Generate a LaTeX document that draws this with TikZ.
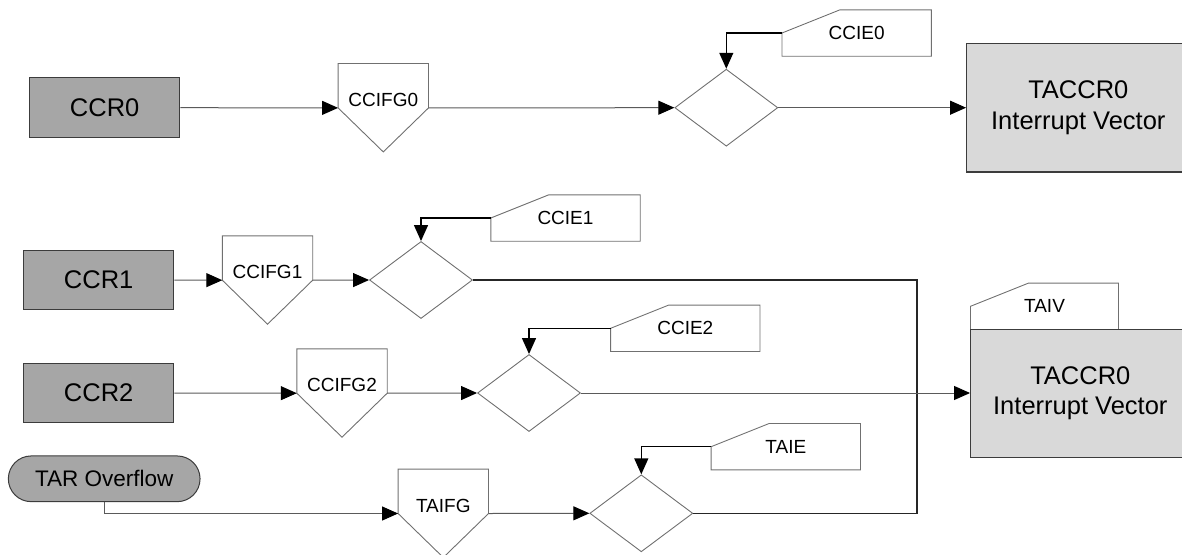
\documentclass[tikz,border=0pt]{standalone}
\usepackage{fontspec}
\setmainfont{Liberation Sans}
\usetikzlibrary{arrows.meta,shapes.geometric}
\definecolor{dgray}{HTML}{A6A6A6}
\definecolor{lgray}{HTML}{D9D9D9}
\definecolor{edgec}{HTML}{3C3C3C}
\definecolor{flowc}{HTML}{5A5A5A}
\definecolor{outc}{HTML}{707070}
\begin{document}
\begin{tikzpicture}[x=1pt,y=-1pt,
  reg/.style={draw=edgec, line width=1pt, fill=dgray, minimum width=150.5pt, minimum height=59.5pt, inner sep=0pt, font=\fontsize{25.5}{30.6}\selectfont},
  vec/.style={draw=edgec, line width=1.2pt, fill=lgray, inner sep=0pt, align=center, font=\fontsize{25.5}{30.6}\selectfont},
  flag/.style={minimum width=90pt, minimum height=44pt, inner sep=0pt, text height=41.6pt, text depth=0pt, font=\fontsize{19}{22}\selectfont},
  gate/.style={diamond, draw=outc, line width=0.9pt, minimum width=103pt, minimum height=77pt, inner sep=0pt},
  tagbox/.style={minimum width=149pt, minimum height=46pt, inner sep=0pt, font=\fontsize{19}{22}\selectfont},
  flow/.style={draw=flowc, line width=1pt, -{Triangle[length=16pt,width=14pt,color=black]}},
  ctl/.style={draw=black, line width=1.3pt, -{Triangle[length=16pt,width=14pt,color=black]}},
  outl/.style={draw=outc, line width=0.9pt},
  busline/.style={draw=black!85, line width=1.1pt},
]
\useasboundingbox (0,0) rectangle (1182,554);

% register boxes
\node[reg] (ccr0) at (104.7,107.7) {CCR0};
\node[reg] (ccr1) at (98.7,280) {CCR1};
\node[reg] (ccr2) at (98.7,393) {CCR2};
\node[reg, rounded corners=22.8pt, minimum width=191.7pt, minimum height=45.7pt,
      font=\fontsize{22.5}{27}\selectfont] (tar) at (104.2,478.8) {TAR Overflow};

% flag pentagons
\node[flag] (f0) at (383.3,85.7) {CCIFG0};
\node[flag] (f1) at (267.5,258) {CCIFG1};
\node[flag] (f2) at (342,371) {CCIFG2};
\node[flag] (f3) at (443.3,491.3) {TAIFG};
\foreach \f in {f0,f1,f2,f3}
  \draw[outl] (\f.north west) -- (\f.north east) -- (\f.south east)
    -- ([yshift=-44pt]\f.south) -- (\f.south west) -- cycle;

% gates
\node[gate] (d0) at (726.3,107.7) {};
\node[gate] (d1) at (421,280) {};
\node[gate] (d2) at (529,393) {};
\node[gate] (d3) at (641.3,513.3) {};

% enable tags
\node[tagbox] (t0) at (856.7,33) {CCIE0};
\node[tagbox] (t1) at (565.5,218) {CCIE1};
\node[tagbox] (t2) at (685.3,328.3) {CCIE2};
\node[tagbox] (t3) at (785.8,446.7) {TAIE};
\node[tagbox, minimum width=147.6pt] (tv) at (1044.5,306.3) {TAIV};
\foreach \t in {t0,t1,t2,t3,tv}
  \draw[outl] (\t.south west) -- (\t.west) -- ([xshift=58pt]\t.north west)
    -- (\t.north east) -- (\t.south east) -- cycle;

% interrupt vector boxes
\node[vec, minimum width=223.3pt, minimum height=128.4pt] (v0) at (1078.3,107.7) {TACCR0\\Interrupt Vector};
\node[vec, minimum width=219.3pt, minimum height=128pt] (v1) at (1080.3,393.3) {TACCR0\\Interrupt Vector};

% row 0
\draw[flow] (ccr0.east) -- (f0.south west);
\draw[flow] (f0.south east) -- (d0.west);
\draw[flow] (d0.east) -- (v0.west);
\draw[ctl] (t0.west) -| (d0.north);

% row 1
\draw[flow] (ccr1.east) -- (f1.south west);
\draw[flow] (f1.south east) -- (d1.west);
\draw[ctl] (t1.west) -| (d1.north);
\coordinate (bus) at (917,280);
\draw[busline] (d1.east) -- (bus) -- (bus |- d3.east) -- (d3.east);

% row 2
\draw[flow] (ccr2.east) -- (f2.south west);
\draw[flow] (f2.south east) -- (d2.west);
\draw[ctl] (t2.west) -| (d2.north);
\draw[flow] (d2.east) -- (v1.west |- d2.east);

% row 3
\draw[flow] (tar.south) |- (f3.south west);
\draw[flow] (f3.south east) -- (d3.west);
\draw[ctl] (t3.west) -| (d3.north);
\end{tikzpicture}
\end{document}
